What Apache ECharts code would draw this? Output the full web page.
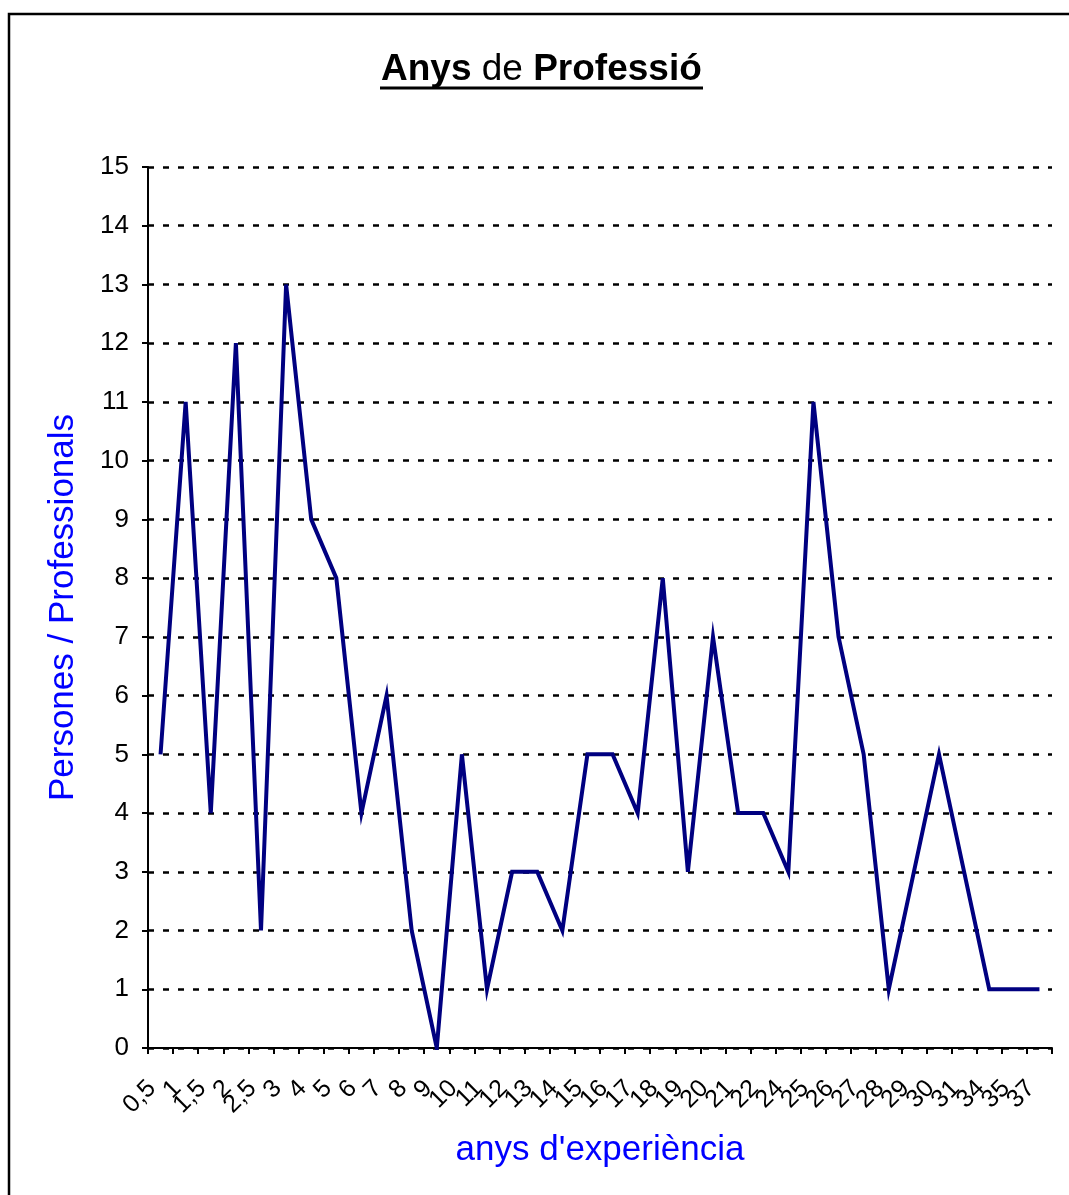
<!DOCTYPE html>
<html>
<head>
<meta charset="utf-8">
<script src="https://cdn.jsdelivr.net/npm/echarts@6/dist/echarts.min.js"></script>
<style>
  html, body { margin: 0; padding: 0; background: #fff; }
  #chart { width: 1069px; height: 1195px; }
</style>
</head>
<body>
<div id="chart"></div>
<script>
// Years of professional experience (categories) and number of people in each
const anys = ['0,5', '1', '1,5', '2', '2,5', '3', '4', '5', '6', '7', '8', '9', '10', '11', '12', '13', '14', '15',
  '16', '17', '18', '19', '20', '21', '22', '24', '25', '26', '27', '28', '29', '30', '31', '34', '35', '37'];
const persones = [5, 11, 4, 12, 2, 13, 9, 8, 4, 6, 2, 0, 5, 1, 3, 3, 2, 5,
  5, 4, 8, 3, 7, 4, 4, 3, 11, 7, 5, 1, 3, 5, 3, 1, 1, 1];
const yTicks = { min: 0, max: 15, step: 1 };

const font = 'Liberation Sans, Arial, sans-serif';
const chart = echarts.init(document.getElementById('chart'));

chart.setOption({
  backgroundColor: '#ffffff',
  animation: false,
  title: {
    text: '{b|Anys }{r|de }{b|Professió}',
    left: 376,
    top: 46,
    textStyle: {
      rich: {
        b: { fontFamily: font, fontSize: 37, fontWeight: 'bold', color: '#000' },
        r: { fontFamily: font, fontSize: 37, fontWeight: 'normal', color: '#000' }
      }
    }
  },
  graphic: [
    {
      // outer chart frame
      type: 'rect',
      shape: { x: 9, y: 14, width: 1100, height: 1250 },
      style: { fill: 'none', stroke: '#000', lineWidth: 2.5 },
      silent: true
    },
    {
      // title underline
      type: 'line',
      shape: { x1: 380, y1: 88, x2: 703, y2: 88 },
      style: { stroke: '#000', lineWidth: 3 },
      silent: true
    }
  ],
  grid: { left: 148, right: 17, top: 167, bottom: 147, containLabel: false },
  xAxis: {
    type: 'category',
    data: anys,
    boundaryGap: true,
    name: "anys d'experiència",
    nameLocation: 'middle',
    nameGap: 85,
    nameTextStyle: { color: '#0000ff', fontFamily: font, fontSize: 35 },
    axisLine: { lineStyle: { color: '#000', width: 2 } },
    axisTick: { show: true, interval: 0, length: 6, lineStyle: { color: '#000', width: 2 } },
    axisLabel: {
      interval: 0, rotate: 45, margin: 28, padding: [0, 12, 0, 0],
      color: '#000', fontFamily: font, fontSize: 25
    },
    splitLine: { show: false }
  },
  yAxis: {
    type: 'value',
    min: yTicks.min,
    max: yTicks.max,
    interval: yTicks.step,
    name: 'Persones / Professionals',
    nameLocation: 'middle',
    nameGap: 67,
    nameTextStyle: { color: '#0000ff', fontFamily: font, fontSize: 35 },
    axisLine: { show: true, lineStyle: { color: '#000', width: 2 } },
    axisTick: { show: true, length: 6, lineStyle: { color: '#000', width: 2 } },
    axisLabel: { color: '#000', fontFamily: font, fontSize: 26, margin: 19 },
    splitLine: {
      show: true,
      lineStyle: { color: '#000', width: 2.5, type: [6, 9] }
    }
  },
  series: [{
    type: 'line',
    data: persones,
    symbol: 'none',
    lineStyle: { color: '#000080', width: 4, join: 'miter' },
    itemStyle: { color: '#000080' }
  }]
});
</script>
</body>
</html>
